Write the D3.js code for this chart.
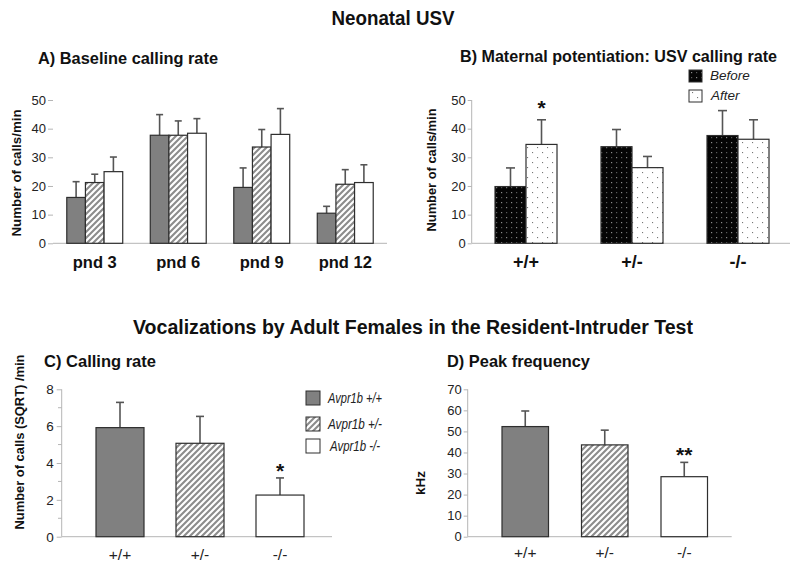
<!DOCTYPE html>
<html><head><meta charset="utf-8">
<script src="https://cdn.jsdelivr.net/npm/d3@7"></script>
<style>body{margin:0;background:#fff}svg{display:block;font-family:"Liberation Sans",Arial,sans-serif}</style>
</head><body><svg id="c" width="800" height="570"></svg>
<script>
// ---------- DATA ----------
const aGroups = ["pnd 3", "pnd 6", "pnd 9", "pnd 12"];
const aSeries = ["+/+", "+/-", "-/-"];
const aWT = [16.0, 37.7, 19.5, 10.5];
const aWTSem = [5.5, 7.2, 6.8, 2.4];
const aHet = [21.2, 37.7, 33.6, 20.6];
const aHetSem = [2.9, 5.0, 6.1, 5.1];
const aKO = [25.0, 38.4, 38.0, 21.2];
const aKOSem = [5.1, 5.1, 9.0, 6.2];
const aTicks = [0, 10, 20, 30, 40, 50];

const bGroups = ["+/+", "+/-", "-/-"];
const bSeries = ["Before", "After"];
const bBefore = [19.8, 33.7, 37.6];
const bBeforeSem = [6.5, 6.0, 8.7];
const bAfter = [34.5, 26.4, 36.3];
const bAfterSem = [8.6, 3.9, 6.8];
const bTicks = [0, 10, 20, 30, 40, 50];

const cGroups = ["+/+", "+/-", "-/-"];
const cMeans = [5.92, 5.07, 2.26];
const cSem = [1.37, 1.46, 0.93];
const cTicks = [0, 2, 4, 6, 8];
const cMinor = [1, 3, 5, 7];
const legendLabels = ["Avpr1b +/+", "Avpr1b +/-", "Avpr1b -/-"];

const dGroups = ["+/+", "+/-", "-/-"];
const dMeans = [52.3, 43.6, 28.5];
const dSem = [7.4, 7.0, 6.8];
const dTicks = [0, 10, 20, 30, 40, 50, 60, 70];

// ---------- SETUP ----------
const svg = d3.select("#c");
const defs = svg.append("defs");
const hatch = defs.append("pattern").attr("id", "hatch").attr("patternUnits", "userSpaceOnUse")
  .attr("width", 6).attr("height", 6);
hatch.append("rect").attr("width", 6).attr("height", 6).attr("fill", "#fff");
hatch.append("path").attr("d", "M-1,1 l2,-2 M0,6 l6,-6 M5,7 l2,-2").attr("stroke", "#8c8c8c").attr("stroke-width", 2.1);

const dotsDark = defs.append("pattern").attr("id", "dotsDark").attr("patternUnits", "userSpaceOnUse")
  .attr("width", 10).attr("height", 10);
dotsDark.append("rect").attr("width", 10).attr("height", 10).attr("fill", "#050505");
dotsDark.append("rect").attr("x", 1).attr("y", 2).attr("width", 1.2).attr("height", 1.2).attr("fill", "#8a8a8a");
dotsDark.append("rect").attr("x", 6).attr("y", 7).attr("width", 1.2).attr("height", 1.2).attr("fill", "#8a8a8a");
dotsDark.append("rect").attr("x", 6).attr("y", 2).attr("width", 1.2).attr("height", 1.2).attr("fill", "#5a5a5a");
dotsDark.append("rect").attr("x", 1).attr("y", 7).attr("width", 1.2).attr("height", 1.2).attr("fill", "#5a5a5a");

const dotsLight = defs.append("pattern").attr("id", "dotsLight").attr("patternUnits", "userSpaceOnUse")
  .attr("width", 10).attr("height", 10);
dotsLight.append("rect").attr("width", 10).attr("height", 10).attr("fill", "#fff");
dotsLight.append("rect").attr("x", 2).attr("y", 2).attr("width", 1.1).attr("height", 1.1).attr("fill", "#777");
dotsLight.append("rect").attr("x", 7).attr("y", 7).attr("width", 1.1).attr("height", 1.1).attr("fill", "#777");

const fillGeno = ["#808080", "url(#hatch)", "#ffffff"];
const fillB = ["url(#dotsDark)", "url(#dotsLight)"];
const barStroke = "#2e2e2e";
const errColor = "#555";
const axisColor = "#b5b5b5";

function text(x, y, s, opts) {
  const t = svg.append("text").attr("x", x).attr("y", y).text(s)
    .attr("font-size", opts.size || 12)
    .attr("font-weight", opts.bold ? "bold" : "normal")
    .attr("font-style", opts.italic ? "italic" : "normal")
    .attr("text-anchor", opts.anchor || "start")
    .attr("fill", opts.fill || "#111");
  if (opts.len) t.attr("textLength", opts.len).attr("lengthAdjust", "spacingAndGlyphs");
  if (opts.rotate) t.attr("transform", `rotate(-90,${x},${y})`);
  if (opts.dy) t.attr("dy", opts.dy);
  return t;
}

function yAxis(x, y, ticks, size, pad, fs, vline) {
  const g = svg.append("g").attr("transform", `translate(${x},0)`)
    .call(d3.axisLeft(y).tickValues(ticks).tickSize(size).tickPadding(pad).tickFormat(d3.format("d")));
  g.select(".domain").attr("stroke", vline ? axisColor : "none");
  if (vline) g.select(".domain").attr("d", `M0,${y.range()[0]}V${y.range()[1]}`);
  g.selectAll(".tick line").attr("stroke", axisColor);
  g.selectAll(".tick text").attr("font-size", fs).attr("fill", "#222")
    .attr("font-family", "'Liberation Sans',Arial,sans-serif");
  return g;
}

function errBar(x, yTop, yBar, cap) {
  svg.append("line").attr("x1", x).attr("x2", x).attr("y1", yBar).attr("y2", yTop)
    .attr("stroke", errColor).attr("stroke-width", 1.6);
  svg.append("line").attr("x1", x - cap / 2).attr("x2", x + cap / 2).attr("y1", yTop).attr("y2", yTop)
    .attr("stroke", errColor).attr("stroke-width", 1.6);
}

// ---------- TITLES ----------
text(393, 25, "Neonatal USV", { size: 19.5, bold: true, anchor: "middle", len: 123 });
text(413, 334, "Vocalizations by Adult Females in the Resident-Intruder Test", { size: 20, bold: true, anchor: "middle", len: 560 });

// ---------- PANEL A ----------
{
  const y = d3.scaleLinear().domain([0, 50]).range([243.3, 100]);
  const x0 = d3.scaleBand().domain(aGroups).range([53, 387]).paddingInner(0.33).paddingOuter(0.165);
  const x1 = d3.scaleBand().domain(aSeries).range([0, x0.bandwidth()]);
  const means = [aWT, aHet, aKO], sems = [aWTSem, aHetSem, aKOSem];
  text(38, 64, "A)  Baseline calling rate", { size: 16.5, bold: true, len: 180 });
  yAxis(53, y, aTicks, 5, 2, 13, false);
  svg.append("line").attr("x1", 53).attr("x2", 387).attr("y1", y(0)).attr("y2", y(0)).attr("stroke", axisColor);
  aGroups.forEach((g, gi) => {
    aSeries.forEach((s, si) => {
      const bx = x0(g) + x1(s), v = means[si][gi];
      errBar(bx + x1.bandwidth() / 2, y(v + sems[si][gi]), y(v), 7);
      svg.append("rect").attr("x", bx).attr("y", y(v)).attr("width", x1.bandwidth()).attr("height", y(0) - y(v))
        .attr("fill", fillGeno[si]).attr("stroke", barStroke).attr("stroke-width", 1.2);
    });
    text(x0(g) + x0.bandwidth() / 2, 268, g, { size: 16.5, bold: true, anchor: "middle" });
  });
  text(21, 173, "Number of calls/min", { size: 13, bold: true, anchor: "middle", rotate: true, len: 127 });
}

// ---------- PANEL B ----------
{
  const y = d3.scaleLinear().domain([0, 50]).range([243.3, 100]);
  const x0 = d3.scaleBand().domain(bGroups).range([473, 791]).paddingInner(0.415).paddingOuter(0.2075);
  const x1 = d3.scaleBand().domain(bSeries).range([0, x0.bandwidth()]);
  const means = [bBefore, bAfter], sems = [bBeforeSem, bAfterSem];
  text(460, 62, "B) Maternal potentiation: USV calling rate", { size: 16.5, bold: true, len: 317 });
  yAxis(471.7, y, bTicks, 4, 2, 13, true);
  svg.append("line").attr("x1", 471.7).attr("x2", 790).attr("y1", y(0)).attr("y2", y(0)).attr("stroke", axisColor);
  bGroups.forEach((g, gi) => {
    bSeries.forEach((s, si) => {
      const bx = x0(g) + x1(s), v = means[si][gi];
      errBar(bx + x1.bandwidth() / 2, y(v + sems[si][gi]), y(v), 9);
      svg.append("rect").attr("x", bx).attr("y", y(v)).attr("width", x1.bandwidth()).attr("height", y(0) - y(v))
        .attr("fill", fillB[si]).attr("stroke", barStroke).attr("stroke-width", 1.2);
    });
    text(x0(g) + x0.bandwidth() / 2, 268, g, { size: 18, bold: true, anchor: "middle" });
  });
  // significance star over +/+ After
  text(x0("+/+") + x1("After") + x1.bandwidth() / 2, 115, "*", { size: 21, bold: true, anchor: "middle" });
  text(436, 170, "Number of calls/min", { size: 13, bold: true, anchor: "middle", rotate: true, len: 123 });
  // legend
  bSeries.forEach((s, i) => {
    svg.append("rect").attr("x", 689).attr("y", 70 + i * 20).attr("width", 13).attr("height", 12)
      .attr("fill", fillB[i]).attr("stroke", barStroke).attr("stroke-width", 1);
    text(710 + (i ? 1 : 0), 80 + i * 20, s, { size: 13.5, italic: true, fill: "#222" });
  });
}

// ---------- PANEL C ----------
{
  const y = d3.scaleLinear().domain([0, 8]).range([536.7, 389.3]);
  const x = d3.scaleBand().domain(cGroups).range([80, 320]).paddingInner(0.4).paddingOuter(0.2);
  text(44, 367, "C) Calling rate", { size: 16.5, bold: true, len: 112 });
  yAxis(61.7, y, cTicks, 5, 3, 13.5, true);
  cMinor.forEach(m => svg.append("line").attr("x1", 58).attr("x2", 61.7).attr("y1", y(m)).attr("y2", y(m)).attr("stroke", axisColor));
  svg.append("line").attr("x1", 61.7).attr("x2", 332).attr("y1", y(0)).attr("y2", y(0)).attr("stroke", axisColor);
  cGroups.forEach((g, i) => {
    const v = cMeans[i];
    errBar(x(g) + x.bandwidth() / 2, y(v + cSem[i]), y(v), 8);
    svg.append("rect").attr("x", x(g)).attr("y", y(v)).attr("width", x.bandwidth()).attr("height", y(0) - y(v))
      .attr("fill", fillGeno[i]).attr("stroke", barStroke).attr("stroke-width", 1.2);
    text(x(g) + x.bandwidth() / 2, 560, g, { size: 15.5, anchor: "middle", fill: "#222" });
  });
  text(x("-/-") + x.bandwidth() / 2, 478, "*", { size: 21, bold: true, anchor: "middle" });
  text(24, 442, "Number of calls (SQRT) /min", { size: 13.5, bold: true, anchor: "middle", rotate: true, len: 175 });
  legendLabels.forEach((l, i) => {
    const yy = [391, 417, 439][i];
    svg.append("rect").attr("x", 306).attr("y", yy).attr("width", 14).attr("height", 14)
      .attr("fill", fillGeno[i]).attr("stroke", barStroke).attr("stroke-width", 1);
    text(328 + (i === 2 ? 2 : 0), yy + 12, l, { size: 14.5, italic: true, fill: "#222", len: i === 2 ? 50 : 54 });
  });
}

// ---------- PANEL D ----------
{
  const y = d3.scaleLinear().domain([0, 70]).range([536.7, 389.3]);
  const x = d3.scaleBand().domain(dGroups).range([485.5, 724]).paddingInner(0.415).paddingOuter(0.2075);
  text(447, 367, "D)  Peak frequency", { size: 16.5, bold: true, len: 143 });
  yAxis(467.7, y, dTicks, 4, 2, 13, true);
  svg.append("line").attr("x1", 467.7).attr("x2", 731.7).attr("y1", y(0)).attr("y2", y(0)).attr("stroke", axisColor);
  dGroups.forEach((g, i) => {
    const v = dMeans[i];
    errBar(x(g) + x.bandwidth() / 2, y(v + dSem[i]), y(v), 8);
    svg.append("rect").attr("x", x(g)).attr("y", y(v)).attr("width", x.bandwidth()).attr("height", y(0) - y(v))
      .attr("fill", fillGeno[i]).attr("stroke", barStroke).attr("stroke-width", 1.2);
    text(x(g) + x.bandwidth() / 2, 558, g, { size: 15.5, anchor: "middle", fill: "#222" });
  });
  text(x("-/-") + x.bandwidth() / 2, 462, "**", { size: 21, bold: true, anchor: "middle" });
  text(425, 483, "kHz", { size: 13.5, bold: true, anchor: "middle", rotate: true });
}
</script></body></html>
